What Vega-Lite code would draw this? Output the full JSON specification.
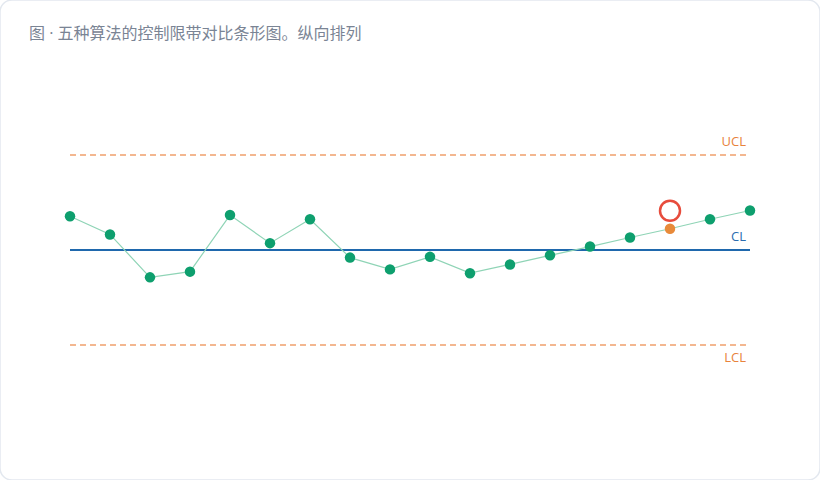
{
  "$schema": "https://vega.github.io/schema/vega-lite/v6.json",
  "width": 820,
  "height": 480,
  "padding": 0,
  "autosize": {"type": "none"},
  "background": "#ffffff",
  "config": {
    "view": {"stroke": "#e3e8ef", "strokeWidth": 1.5, "cornerRadius": 12},
    "font": "Open Sans"
  },
  "title": {
    "text": "图 · 五种算法的控制限带对比条形图。纵向排列",
    "anchor": "start",
    "frame": "group",
    "orient": "top",
    "offset": -40,
    "dx": 29,
    "dy": 15,
    "baseline": "alphabetic",
    "font": "Open Sans, Noto Sans CJK SC",
    "fontSize": 16,
    "fontWeight": "normal",
    "color": "#7a8494"
  },
  "datasets": {
    "pts": [
      {"i": 1, "v": 58.9, "flag": "normal"},
      {"i": 2, "v": 54.1, "flag": "normal"},
      {"i": 3, "v": 42.8, "flag": "normal"},
      {"i": 4, "v": 44.3, "flag": "normal"},
      {"i": 5, "v": 59.2, "flag": "normal"},
      {"i": 6, "v": 51.8, "flag": "normal"},
      {"i": 7, "v": 58.1, "flag": "normal"},
      {"i": 8, "v": 48.0, "flag": "normal"},
      {"i": 9, "v": 44.9, "flag": "normal"},
      {"i": 10, "v": 48.2, "flag": "normal"},
      {"i": 11, "v": 43.9, "flag": "normal"},
      {"i": 12, "v": 46.2, "flag": "normal"},
      {"i": 13, "v": 48.6, "flag": "normal"},
      {"i": 14, "v": 50.9, "flag": "normal"},
      {"i": 15, "v": 53.3, "flag": "normal"},
      {"i": 16, "v": 55.6, "flag": "signal"},
      {"i": 17, "v": 58.1, "flag": "normal"},
      {"i": 18, "v": 60.4, "flag": "normal"}
    ],
    "limits": [
      {"name": "UCL", "v": 75, "kind": "limit", "pos": "above"},
      {"name": "CL", "v": 50, "kind": "center", "pos": "above"},
      {"name": "LCL", "v": 25, "kind": "limit", "pos": "below"}
    ]
  },
  "encoding": {
    "x": {"type": "quantitative", "scale": {"domain": [-0.75, 19.75], "nice": false, "zero": false}, "axis": null},
    "y": {"type": "quantitative", "scale": {"domain": [-10.526, 115.789], "nice": false, "zero": false}, "axis": null}
  },
  "layer": [
    {
      "data": {"name": "limits"},
      "transform": [{"filter": "datum.kind === 'limit'"}],
      "mark": {"type": "rule", "color": "#f0a06c", "strokeWidth": 1.5, "strokeDash": [6, 4]},
      "encoding": {
        "x": {"datum": 1, "type": "quantitative"},
        "x2": {"datum": 18},
        "y": {"field": "v", "type": "quantitative"}
      }
    },
    {
      "data": {"name": "limits"},
      "transform": [{"filter": "datum.kind === 'center'"}],
      "mark": {"type": "rule", "color": "#1f68ad", "strokeWidth": 2},
      "encoding": {
        "x": {"datum": 1, "type": "quantitative"},
        "x2": {"datum": 18},
        "y": {"field": "v", "type": "quantitative"}
      }
    },
    {
      "data": {"name": "limits"},
      "transform": [{"filter": "datum.pos === 'above'"}],
      "mark": {"type": "text", "align": "right", "baseline": "middle", "dx": -4, "dy": -13, "fontSize": 13},
      "encoding": {
        "x": {"datum": 18, "type": "quantitative"},
        "y": {"field": "v", "type": "quantitative"},
        "text": {"field": "name"},
        "color": {"field": "kind", "type": "nominal", "scale": {"domain": ["limit", "center"], "range": ["#e8833c", "#2a6cb0"]}, "legend": null}
      }
    },
    {
      "data": {"name": "limits"},
      "transform": [{"filter": "datum.pos === 'below'"}],
      "mark": {"type": "text", "align": "right", "baseline": "middle", "dx": -4, "dy": 13, "fontSize": 13, "color": "#e8833c"},
      "encoding": {
        "x": {"datum": 18, "type": "quantitative"},
        "y": {"field": "v", "type": "quantitative"},
        "text": {"field": "name"}
      }
    },
    {
      "data": {"name": "pts"},
      "mark": {"type": "line", "color": "#8fd4b6", "strokeWidth": 1.2},
      "encoding": {
        "x": {"field": "i", "type": "quantitative"},
        "y": {"field": "v", "type": "quantitative"}
      }
    },
    {
      "data": {"name": "pts"},
      "mark": {"type": "circle", "size": 110, "opacity": 1},
      "encoding": {
        "x": {"field": "i", "type": "quantitative"},
        "y": {"field": "v", "type": "quantitative"},
        "fill": {"field": "flag", "type": "nominal", "scale": {"domain": ["normal", "signal"], "range": ["#0e9f6e", "#e88a3a"]}, "legend": null}
      }
    },
    {
      "data": {"name": "pts"},
      "transform": [{"filter": "datum.flag === 'signal'"}],
      "mark": {"type": "point", "shape": "circle", "filled": false, "size": 400, "yOffset": -18, "stroke": "#e74c3c", "strokeWidth": 2.5, "opacity": 1},
      "encoding": {
        "x": {"field": "i", "type": "quantitative"},
        "y": {"field": "v", "type": "quantitative"}
      }
    }
  ]
}
